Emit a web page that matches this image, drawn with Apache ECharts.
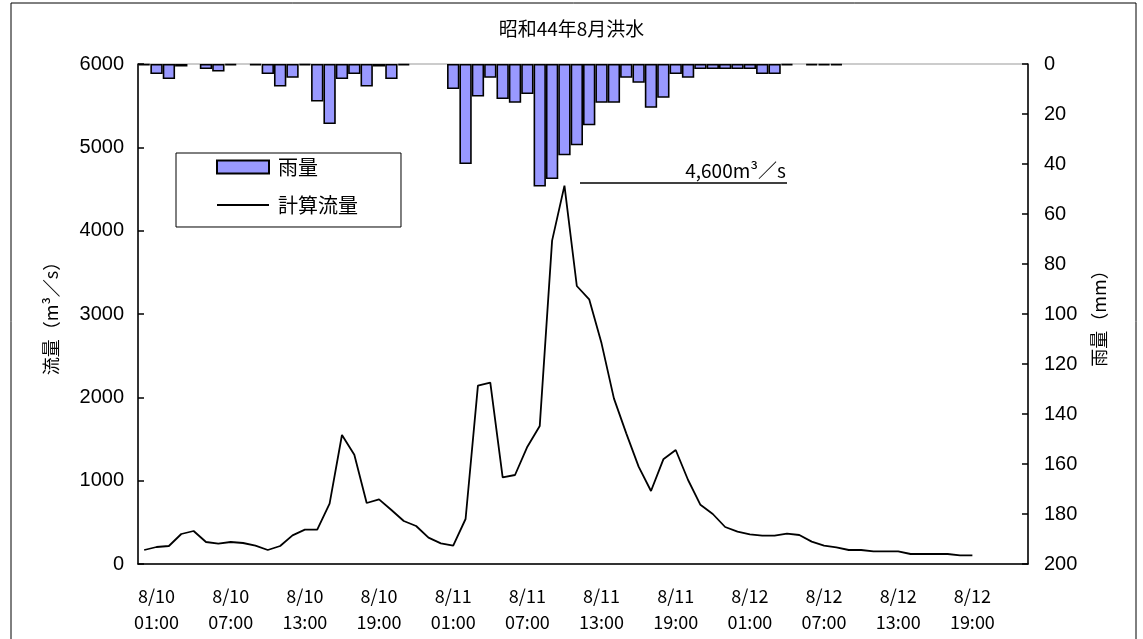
<!DOCTYPE html>
<html>
<head>
<meta charset="utf-8">
<script src="https://cdn.jsdelivr.net/npm/echarts@6/dist/echarts.min.js"></script>
<style>
html,body{margin:0;padding:0;background:#fff;}
#chart{width:1143px;height:639px;}
</style>
</head>
<body>
<div id="chart"></div>
<script>
// hourly categories 8/10 00:00 ... 8/12 23:00
var categories = [
"8/10 00:00","8/10 01:00","8/10 02:00","8/10 03:00","8/10 04:00","8/10 05:00","8/10 06:00","8/10 07:00","8/10 08:00","8/10 09:00","8/10 10:00","8/10 11:00",
"8/10 12:00","8/10 13:00","8/10 14:00","8/10 15:00","8/10 16:00","8/10 17:00","8/10 18:00","8/10 19:00","8/10 20:00","8/10 21:00","8/10 22:00","8/10 23:00",
"8/11 00:00","8/11 01:00","8/11 02:00","8/11 03:00","8/11 04:00","8/11 05:00","8/11 06:00","8/11 07:00","8/11 08:00","8/11 09:00","8/11 10:00","8/11 11:00",
"8/11 12:00","8/11 13:00","8/11 14:00","8/11 15:00","8/11 16:00","8/11 17:00","8/11 18:00","8/11 19:00","8/11 20:00","8/11 21:00","8/11 22:00","8/11 23:00",
"8/12 00:00","8/12 01:00","8/12 02:00","8/12 03:00","8/12 04:00","8/12 05:00","8/12 06:00","8/12 07:00","8/12 08:00","8/12 09:00","8/12 10:00","8/12 11:00",
"8/12 12:00","8/12 13:00","8/12 14:00","8/12 15:00","8/12 16:00","8/12 17:00","8/12 18:00","8/12 19:00","8/12 20:00","8/12 21:00","8/12 22:00","8/12 23:00"
];
// rainfall (mm)
var rainfall = [
0.5,4,6,1,0,2,3,0.5,0,0.5,4,9,5.5,0.5,15,24,6,4,9,1,6,0.5,0,0,
0,10,40,13,5.5,14,15.5,12,49,46,36.5,32.5,24.5,15.5,15.5,5.5,7.5,17.5,13.5,4,5.5,2,2,2,
2,2,4,4,0.5,0,0.5,0.5,0.5,0,0,0,0,0,0,0,0,0,0,0,0,0,0,0
];
// computed discharge (m3/s)
var flow = [
168,204,216,360,396,264,244,264,252,220,168,216,344,412,412,724,1548,1312,732,776,648,516,456,316,
248,220,540,2140,2176,1040,1068,1408,1656,3880,4540,3336,3176,2648,1988,1568,1168,876,1256,1368,1008,710,600,444,
388,356,340,340,364,348,268,220,200,168,168,152,152,152,120,120,120,120,104,104
];
var titleText = "昭和44年8月洪水";
var peakLabel = "4,600m³／s";
var flowTicks = {min:0, max:6000, interval:1000};
var rainTicks = {min:0, max:200, interval:20};

var FONT = "'Noto Sans CJK JP','Liberation Sans',sans-serif";
var NUMFONT = "'Liberation Sans',sans-serif";
var chart = echarts.init(document.getElementById('chart'));
var option = {
  backgroundColor:'#fff',
  animation:false,
  textStyle:{fontFamily:FONT, color:'#000'},
  title:{text:titleText, left:'center', top:14, textStyle:{fontFamily:FONT, fontSize:19, fontWeight:'normal', color:'#000'}},
  grid:{left:138, right:115, top:64, bottom:75, show:true, borderColor:'#999', borderWidth:1, backgroundColor:'transparent'},
  legend:{
    left:176, top:153, orient:'vertical',
    padding:[4,43,12,40], itemGap:18,
    backgroundColor:'#fff', borderColor:'#000', borderWidth:1, borderRadius:0,
    itemWidth:52, itemHeight:13,
    textStyle:{fontFamily:FONT, fontSize:20, color:'#000', padding:[0,0,0,4]},
    data:[
      {name:'雨量', icon:'rect'},
      {name:'計算流量', itemStyle:{color:'rgba(0,0,0,0)', borderColor:'rgba(0,0,0,0)', borderWidth:0}}
    ]
  },
  xAxis:{
    type:'category', data:categories, boundaryGap:true,
    axisLine:{lineStyle:{color:'#000', width:1.5}},
    axisTick:{inside:true, length:6, lineStyle:{color:'#000', width:1.5}, interval:function(i){return i%12===0;}},
    axisLabel:{interval:function(i){return i%6===1;}, fontFamily:FONT, fontSize:18, color:'#000', lineHeight:26, margin:19,
      formatter:function(v){return v.replace(' ','\n');}}
  },
  yAxis:[
    {type:'value', min:flowTicks.min, max:flowTicks.max, interval:flowTicks.interval, position:'left',
     name:'流量（m³／s）', nameLocation:'middle', nameGap:78, nameRotate:90,
     nameTextStyle:{fontFamily:FONT, fontSize:18, color:'#000'},
     axisLine:{show:true, lineStyle:{color:'#000', width:1.5}},
     axisTick:{show:true, inside:true, length:6, lineStyle:{color:'#000', width:1.5}},
     axisLabel:{fontFamily:NUMFONT, fontSize:20, color:'#000', margin:14, formatter:function(v){return String(v);}},
     splitLine:{show:false}},
    {type:'value', min:rainTicks.min, max:rainTicks.max, interval:rainTicks.interval, position:'right', inverse:true,
     name:'雨量（mm）', nameLocation:'middle', nameGap:62, nameRotate:90,
     nameTextStyle:{fontFamily:FONT, fontSize:18, color:'#000'},
     axisLine:{show:true, lineStyle:{color:'#000', width:1.5}},
     axisTick:{show:true, inside:true, length:6, lineStyle:{color:'#000', width:1.5}},
     axisLabel:{fontFamily:NUMFONT, fontSize:20, color:'#000', margin:16, formatter:function(v){return String(v);}},
     splitLine:{show:false}}
  ],
  series:[
    {name:'雨量', type:'bar', yAxisIndex:1, data:rainfall.map(function(v){return v === 0 ? null : v;}),
     barCategoryGap:'0%', barGap:'0%',
     itemStyle:{color:'#9999FF', borderColor:'#000', borderWidth:1.6}, z:2},
    {name:'計算流量', type:'line', yAxisIndex:0, data:flow, symbol:'none', showSymbol:false,
     lineStyle:{color:'#000', width:1.8}, itemStyle:{color:'#000'}, z:3}
  ],
  graphic:[
    {type:'rect', shape:{x:11, y:3, width:1125, height:660}, style:{fill:'none', stroke:'#000', lineWidth:1}, silent:true, z:-1},
    {type:'line', shape:{x1:580, y1:183, x2:787, y2:183}, style:{stroke:'#000', lineWidth:1.5}, z:10},
    {type:'text', x:786, y:180, style:{text:peakLabel, font:"19px "+FONT, fill:'#000', textAlign:'right', textVerticalAlign:'bottom'}, z:10}
  ]
};
chart.setOption(option);
</script>
</body>
</html>
